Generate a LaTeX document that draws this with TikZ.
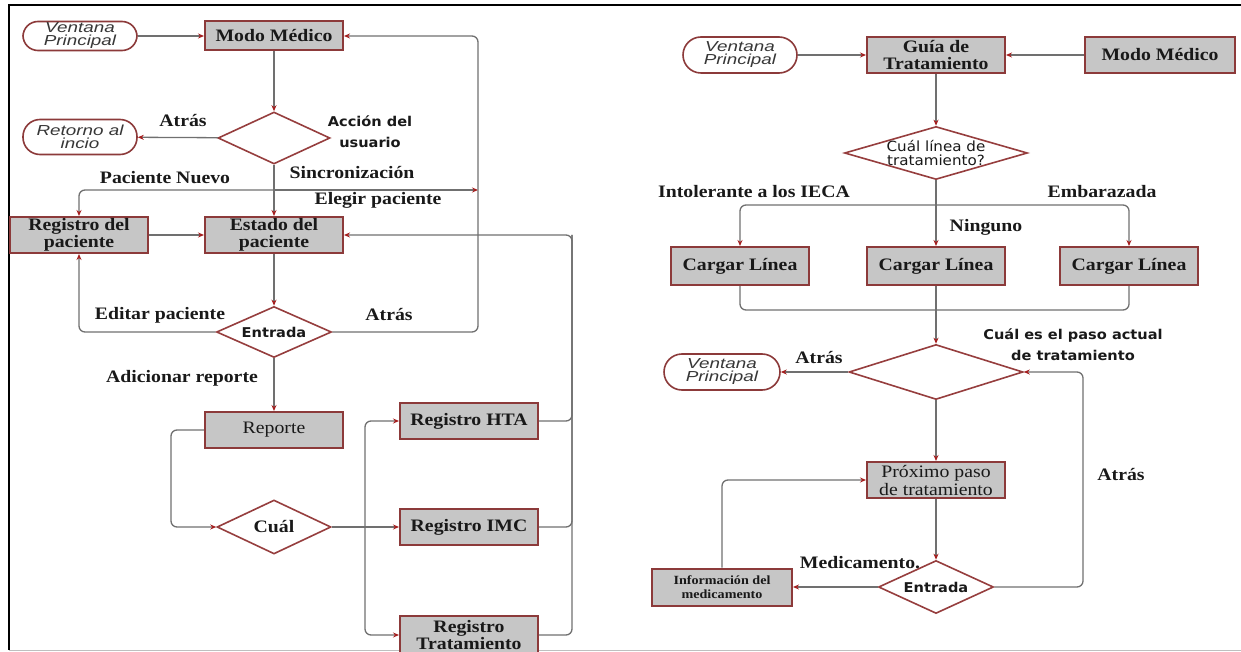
\documentclass[tikz,border=0pt]{standalone}
\usepackage{fontspec}
\setmainfont{Liberation Serif}[FakeStretch=1.13]
\newfontfamily\dvsans{DejaVu Sans}[FakeStretch=1.08]
\newfontfamily\ovalfont{Liberation Sans}[FakeStretch=1.3]
\usetikzlibrary{shapes.geometric,arrows.meta,calc}
\definecolor{boxfill}{RGB}{198,198,198}
\definecolor{boxline}{RGB}{140,58,58}
\definecolor{dialine}{RGB}{150,62,62}
\definecolor{connline}{RGB}{112,112,112}
\definecolor{tipred}{RGB}{165,30,30}
\definecolor{txt}{RGB}{25,25,25}
\definecolor{ovaltxt}{RGB}{55,55,55}
\begin{document}
\begin{tikzpicture}[x=1pt,y=-1pt,
  >={Stealth[length=6pt,width=5pt,color=tipred]},
  box/.style={draw=boxline,fill=boxfill,line width=2pt,minimum width=138pt,minimum height=36pt,inner sep=1pt,align=center,text=txt,font=\fontsize{17.5}{16.5}\selectfont\bfseries},
  boxr/.style={box,font=\fontsize{17.5}{18}\selectfont},
  oval/.style={draw=boxline,fill=white,line width=1.6pt,rounded corners=15pt,minimum width=114pt,minimum height=30pt,inner sep=0pt,align=center,text=ovaltxt,font=\ovalfont\itshape\fontsize{14.5}{13}\selectfont},
  dia/.style={diamond,draw=dialine,fill=white,line width=1.6pt,inner sep=0pt},
  dsans/.style={inner sep=0pt,text=txt,font=\dvsans\bfseries\fontsize{13.5}{20}\selectfont,align=center},
  dserif/.style={inner sep=0pt,text=txt,font=\fontsize{17.5}{18}\selectfont\bfseries},
  lab/.style={inner sep=0pt,text=txt,align=center,font=\fontsize{17.5}{20}\selectfont\bfseries},
  labs/.style={inner sep=0pt,text=txt,align=center,font=\dvsans\bfseries\fontsize{13.5}{21}\selectfont},
  conn/.style={draw=connline,line width=1.3pt,rounded corners=6pt}
]
\useasboundingbox (0,0) rectangle (1241,652);
% frame
\draw[line width=2.5pt] (9,650) -- (9,5) -- (1241,5);
\draw[black!25,line width=1pt] (9,650.5) -- (1241,650.5);

% ---------------- left panel ----------------
\node[oval,minimum height=29pt] (vp1) at (80,36) {Ventana\\Principal};
\node[box,minimum height=29pt] (mm1) at (274,36) {Modo Médico};
\node[dia,minimum width=112pt,minimum height=52pt] (acc) at (274,138) {};
\node[oval,minimum height=35pt,rounded corners=17pt] (ret) at (80,137) {Retorno al\\incio};
\node[box] (rp) at (79,235) {Registro del\\paciente};
\node[box] (ep) at (274,235) {Estado del\\paciente};
\node[dia,minimum width=115pt,minimum height=51pt,label={[dsans]center:Entrada}] (ent) at (274,332) {};
\node[boxr] (re) at (274,430) {Reporte};
\node[dia,minimum width=114pt,minimum height=54pt,label={[dserif]center:Cuál}] (cual) at (274,527) {};
\node[box] (hta) at (469,421) {Registro HTA};
\node[box] (imc) at (469,527) {Registro IMC};
\node[box,minimum height=38pt] (tra) at (469,635) {Registro\\Tratamiento};

\node[lab] (l1) at (183,121) {Atrás};
\node[labs] (l2) at (370,132) {Acción del\\usuario};
\node[lab] (l3) at (165,178) {Paciente Nuevo};
\node[lab] (l4) at (352,173) {Sincronización};
\node[lab] (l5) at (378,200) {Elegir paciente};
\node[lab] (l6) at (160,315) {Editar paciente};
\node[lab] (l7) at (389,315) {Atrás};
\node[lab] (l8) at (182,378) {Adicionar reporte};

\coordinate (b1) at (274,190);
\coordinate (b1r) at (478,190);
\coordinate (lt) at (478,36);
\coordinate (lb) at (478,332);
\coordinate (cb) at (365,527);
\coordinate (rv) at (572,235);

\draw[conn,->] (vp1) -- (mm1);
\draw[conn,->] (mm1) -- (acc);
\draw[conn,->] (acc) -- (ret);
\draw[conn,->] (acc.south) -- (ep.north);
\draw[conn,->] (b1) -| (rp.north);
\draw[conn,->] (b1) -- (b1r);
\draw[conn,->] (ent.east) -- (lb) -- (lt) -- (mm1.east);
\draw[conn,->] (rp) -- (ep);
\draw[conn,->] (ep) -- (ent);
\draw[conn,->] (ent.west) -| (rp.south);
\draw[conn,->] (ent) -- (re);
\draw[conn,->] (re.west) -- ++(-33,0) |- (cual.west);
\draw[conn] (cual.east) -- (cb);
\draw[conn,->] (cb) -- (imc.west);
\draw[conn,->] (cb) |- (hta.west);
\draw[conn,->] (cb) |- (tra.west);
\draw[conn,->] (tra.east) -| (rv) -- (ep.east);
\draw[conn] (hta.east) -| (rv);
\draw[conn] (imc.east) -| (rv);

% ---------------- right panel ----------------
\node[oval,minimum height=36pt,rounded corners=18pt] (vp2) at (740,55) {Ventana\\Principal};
\node[box] (gt) at (936,55) {Guía de\\Tratamiento};
\node[box,minimum width=150pt] (mm2) at (1160,55) {Modo Médico};
\node[dia,minimum width=183pt,minimum height=53pt,label={[inner sep=0pt,text=txt,align=center,font=\dvsans\fontsize{14}{14}\selectfont]center:Cuál línea de\\tratamiento?}] (cl) at (936,153) {};
\node[box,minimum height=38pt] (c1) at (740,266) {Cargar Línea};
\node[box,minimum height=38pt] (c2) at (936,266) {Cargar Línea};
\node[box,minimum height=38pt] (c3) at (1129,266) {Cargar Línea};
\node[dia,minimum width=174pt,minimum height=55pt] (ce) at (936,372) {};
\node[oval,minimum width=116pt,minimum height=36pt,rounded corners=18pt] (vp3) at (722,372) {Ventana\\Principal};
\node[boxr] (pp) at (936,480) {Próximo paso\\de tratamiento};
\node[dia,minimum width=115pt,minimum height=53pt,label={[dsans]center:Entrada}] (en2) at (936,587) {};
\node[box,minimum width=140pt,minimum height=37pt,font=\fontsize{12.5}{14}\selectfont\bfseries] (im) at (722,587) {Información del\\medicamento};

\node[lab] (r1) at (754,192) {Intolerante a los IECA};
\node[lab] (r2) at (1102,192) {Embarazada};
\node[lab] (r3) at (986,227) {Ninguno};
\node[labs] (r4) at (1073,345) {Cuál es el paso actual\\de tratamiento};
\node[lab] (r5) at (819,358) {Atrás};
\node[lab] (r6) at (1121,475) {Atrás};
\node[lab] (r7) at (860,563) {Medicamento.};

\coordinate (b2) at (936,205);
\coordinate (m2) at (936,310);
\coordinate (rr) at (1083,372);

\draw[conn,->] (vp2) -- (gt);
\draw[conn,->] (mm2) -- (gt);
\draw[conn,->] (gt) -- (cl);
\draw[conn,->] (cl.south) -- (c2.north);
\draw[conn,->] (b2) -| (c1.north);
\draw[conn,->] (b2) -| (c3.north);
\draw[conn] (c1.south) |- (m2);
\draw[conn] (c3.south) |- (m2);
\draw[conn,->] (c2.south) -- (ce.north);
\draw[conn,->] (ce.west) -- (vp3.east);
\draw[conn,->] (ce) -- (pp);
\draw[conn,->] (pp) -- (en2);
\draw[conn,->] (en2.west) -- (im.east);
\draw[conn,->] (im.north) |- (pp.west);
\draw[conn,->] (en2.east) -| (rr) -- (ce.east);
\end{tikzpicture}
\end{document}
